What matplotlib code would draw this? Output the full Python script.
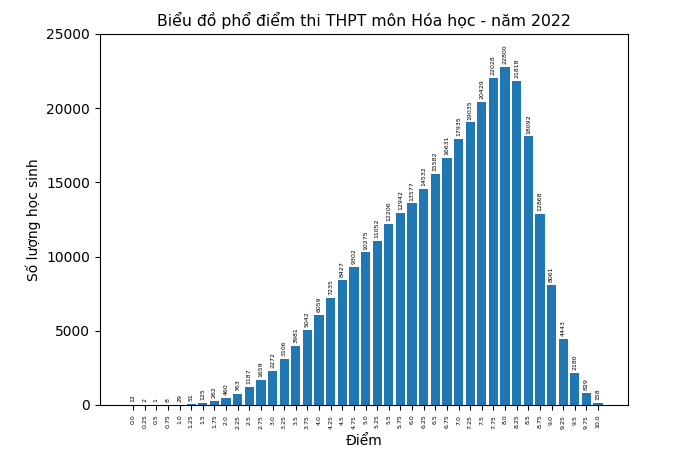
import matplotlib
matplotlib.use("Agg")
import matplotlib.pyplot as plt

scores = ["0.0","0.25","0.5","0.75","1.0","1.25","1.5","1.75","2.0","2.25","2.5","2.75","3.0","3.25","3.5","3.75","4.0","4.25","4.5","4.75","5.0","5.25","5.5","5.75","6.0","6.25","6.5","6.75","7.0","7.25","7.5","7.75","8.0","8.25","8.5","8.75","9.0","9.25","9.5","9.75","10.0"]
counts = [12,2,1,8,29,51,125,262,460,763,1187,1659,2272,3106,3981,5042,6059,7235,8427,9302,10275,11052,12206,12942,13577,14532,15582,16631,17935,19035,20429,22028,22800,21818,18092,12868,8061,4443,2180,829,158]

fig = plt.figure(figsize=(6.8, 4.53), dpi=100)
ax = fig.add_axes([0.147, 0.106, 0.777, 0.819])
x = list(range(len(scores)))
ax.bar(x, counts, color="#1f77b4")
for xi, c in zip(x, counts):
    ax.text(xi, c + 200, str(c), rotation=90, ha="center", va="bottom", fontsize=4.5)
ax.set_xticks(x)
ax.set_xticklabels(scores, rotation=90, fontsize=4.5)
ax.set_ylim(0, 25000)
ax.set_xlim(-2.85, 42.6)
ax.set_xlabel("Điểm", labelpad=4)
ax.set_ylabel("Số lượng học sinh")
ax.set_title("Biểu đồ phổ điểm thi THPT môn Hóa học - năm 2022", fontsize=11.3)
fig.savefig("out.png", dpi=100)
